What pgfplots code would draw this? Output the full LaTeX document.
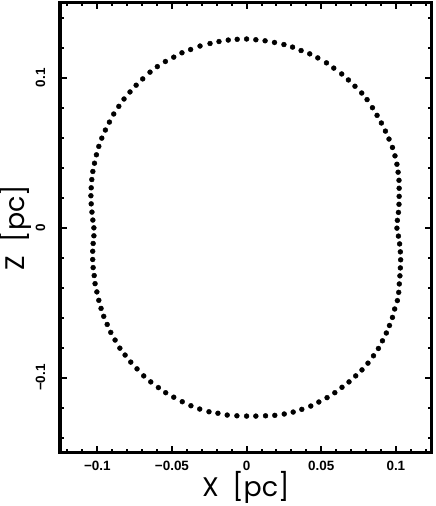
\documentclass[border=0pt]{standalone}
\usepackage{pgfplots}
\pgfplotsset{compat=1.18}
\usepackage{fontspec}
\setmainfont{Liberation Sans}
\newfontfamily\labelfont{Poppins}

\begin{document}
\begin{tikzpicture}
\begin{axis}[
    at={(0,0)}, anchor=south west,
    scale only axis,
    width=371.7bp, height=450bp,
    xmin=-0.125, xmax=0.124,
    ymin=-0.15, ymax=0.15,
    axis line style={line width=3.2bp},
    every tick/.style={black, line width=2bp},
    major tick length=6.5bp,
    minor tick length=3.5bp,
    tick align=inside,
    xtick={-0.1,-0.05,0,0.05,0.1},
    xticklabels={−0.1,−0.05,0,0.05,0.1},
    minor xtick={-0.12,-0.11,...,0.125},
    ytick={-0.1,0,0.1},
    yticklabels={−0.1,0,0.1},
    minor ytick={-0.14,-0.12,...,0.145},
    tick label style={font=\fontsize{13.5}{13.5}\selectfont\bfseries},
    xticklabel style={anchor=base},
    xticklabel shift=18bp,
    yticklabel style={rotate=90, anchor=base},
    yticklabel shift=15bp,
    xlabel={X\hspace{0.5em}[pc]},
    ylabel={Z\hspace{0.5em}[pc]},
    xlabel style={at={(axis description cs:0.5,-0.0978)}, anchor=base,
        font=\labelfont\fontsize{27}{27}\selectfont},
    ylabel style={at={(axis description cs:-0.0942,0.5)}, anchor=base,
        font=\labelfont\fontsize{27}{27}\selectfont},
]
% points of the closed curve, X and Z in pc
\addplot[black, only marks, mark=*, mark size=2.45bp] coordinates {
(0.0000,0.1258) (0.0062,0.1253) (0.0124,0.1246) (0.0187,0.1235) (0.0250,0.1221)
(0.0308,0.1204) (0.0365,0.1181) (0.0423,0.1159) (0.0477,0.1132) (0.0535,0.1099)
(0.0584,0.1064) (0.0637,0.1025) (0.0682,0.0985) (0.0726,0.0943) (0.0771,0.0898)
(0.0807,0.0854) (0.0843,0.0800) (0.0874,0.0749) (0.0903,0.0698) (0.0930,0.0644)
(0.0954,0.0591) (0.0977,0.0535) (0.0994,0.0479) (0.1007,0.0423) (0.1015,0.0370)
(0.1021,0.0316) (0.1022,0.0263) (0.1022,0.0209) (0.1021,0.0156) (0.1017,0.0102)
(0.1010,0.0049) (0.1007,-0.0003) (0.1017,-0.0056) (0.1025,-0.0108) (0.1030,-0.0161)
(0.1032,-0.0214) (0.1030,-0.0268) (0.1027,-0.0321) (0.1023,-0.0375) (0.1019,-0.0431)
(0.1010,-0.0486) (0.0992,-0.0542) (0.0977,-0.0598) (0.0957,-0.0652) (0.0936,-0.0702)
(0.0910,-0.0754) (0.0883,-0.0805) (0.0850,-0.0854) (0.0813,-0.0903) (0.0773,-0.0948)
(0.0731,-0.0988) (0.0686,-0.1028) (0.0639,-0.1064) (0.0591,-0.1100) (0.0539,-0.1133)
(0.0484,-0.1162) (0.0430,-0.1189) (0.0370,-0.1211) (0.0312,-0.1229) (0.0252,-0.1242)
(0.0189,-0.1251) (0.0127,-0.1254) (0.0062,-0.1256) (0.0000,-0.1256) (-0.0065,-0.1254)
(-0.0130,-0.1249) (-0.0192,-0.1237) (-0.0252,-0.1227) (-0.0314,-0.1209) (-0.0373,-0.1187)
(-0.0431,-0.1160) (-0.0488,-0.1130) (-0.0542,-0.1100) (-0.0591,-0.1066) (-0.0642,-0.1028)
(-0.0689,-0.0988) (-0.0734,-0.0941) (-0.0776,-0.0896) (-0.0814,-0.0849) (-0.0849,-0.0803)
(-0.0881,-0.0749) (-0.0910,-0.0698) (-0.0934,-0.0645) (-0.0957,-0.0591) (-0.0975,-0.0538)
(-0.0990,-0.0484) (-0.1003,-0.0428) (-0.1015,-0.0373) (-0.1021,-0.0319) (-0.1028,-0.0266)
(-0.1031,-0.0212) (-0.1031,-0.0157) (-0.1028,-0.0105) (-0.1023,-0.0054) (-0.1023,-0.0001)
(-0.1030,0.0051) (-0.1036,0.0104) (-0.1041,0.0159) (-0.1043,0.0213) (-0.1041,0.0266)
(-0.1037,0.0321) (-0.1030,0.0375) (-0.1019,0.0430) (-0.1006,0.0486) (-0.0990,0.0542)
(-0.0970,0.0597) (-0.0946,0.0651) (-0.0919,0.0704) (-0.0890,0.0758) (-0.0856,0.0809)
(-0.0821,0.0858) (-0.0781,0.0905) (-0.0740,0.0950) (-0.0696,0.0992) (-0.0647,0.1037)
(-0.0598,0.1074) (-0.0544,0.1108) (-0.0488,0.1137) (-0.0433,0.1166) (-0.0375,0.1188)
(-0.0312,0.1211) (-0.0245,0.1228) (-0.0185,0.1241) (-0.0123,0.1251) (-0.0063,0.1256)
};
\end{axis}
\pgfresetboundingbox
\path[use as bounding box] (-60bp,-53.3bp) rectangle (376bp,452.7bp);
\end{tikzpicture}
\end{document}
